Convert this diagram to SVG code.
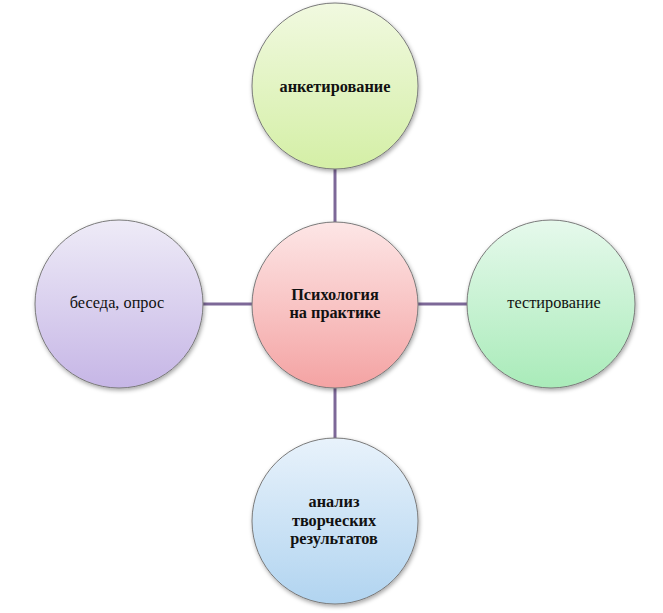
<svg xmlns="http://www.w3.org/2000/svg" width="663" height="613" viewBox="0 0 663 613">
<style>
.node circle{stroke:#7a7a7a;stroke-width:1;filter:url(#sh)}
text{font-family:"Liberation Serif","DejaVu Serif",serif;font-size:16.3px;fill:#111;text-anchor:middle}
.b{font-weight:bold}
.conn line{stroke:#7d6898;stroke-width:3}
</style>
<defs>
<filter id="sh" x="-20%" y="-20%" width="140%" height="140%"><feDropShadow dx="1" dy="2" stdDeviation="2" flood-color="#000" flood-opacity="0.35"/></filter>
<linearGradient id="gTop" x1="0" y1="0" x2="0" y2="1"><stop offset="0" stop-color="#f1f9e0"/><stop offset="1" stop-color="#d4efa6"/></linearGradient>
<linearGradient id="gCen" x1="0" y1="0" x2="0" y2="1"><stop offset="0" stop-color="#fde6e6"/><stop offset="1" stop-color="#f4a3a3"/></linearGradient>
<linearGradient id="gLeft" x1="0" y1="0" x2="0" y2="1"><stop offset="0" stop-color="#eeebf7"/><stop offset="1" stop-color="#c6b6e6"/></linearGradient>
<linearGradient id="gRight" x1="0" y1="0" x2="0" y2="1"><stop offset="0" stop-color="#e6f9ec"/><stop offset="1" stop-color="#a9ebb9"/></linearGradient>
<linearGradient id="gBot" x1="0" y1="0" x2="0" y2="1"><stop offset="0" stop-color="#e8f2fb"/><stop offset="1" stop-color="#b1d4f0"/></linearGradient>
</defs>
<rect width="663" height="613" fill="#fff"/>
<g id="connectors" class="conn">
<line x1="335" y1="168" x2="335" y2="223"/>
<line x1="202" y1="304" x2="253" y2="304"/>
<line x1="418" y1="304" x2="469" y2="304"/>
<line x1="335" y1="387" x2="335" y2="440"/>
</g>
<g id="n-top" class="node"><circle cx="335" cy="86" r="83" fill="url(#gTop)"/><text class="b" x="335" y="92">анкетирование</text></g>
<g id="n-center" class="node"><circle cx="335" cy="305" r="83" fill="url(#gCen)"/><text class="b" x="335" y="300">Психология</text><text class="b" x="335" y="318">на практике</text></g>
<g id="n-left" class="node"><circle cx="119" cy="304" r="84" fill="url(#gLeft)"/><text x="117" y="308">беседа, опрос</text></g>
<g id="n-right" class="node"><circle cx="551" cy="304" r="84" fill="url(#gRight)"/><text x="554" y="308">тестирование</text></g>
<g id="n-bottom" class="node"><circle cx="335" cy="521" r="83" fill="url(#gBot)"/><text class="b" x="334" y="507">анализ</text><text class="b" x="334" y="526">творческих</text><text class="b" x="334" y="544">результатов</text></g>
</svg>
